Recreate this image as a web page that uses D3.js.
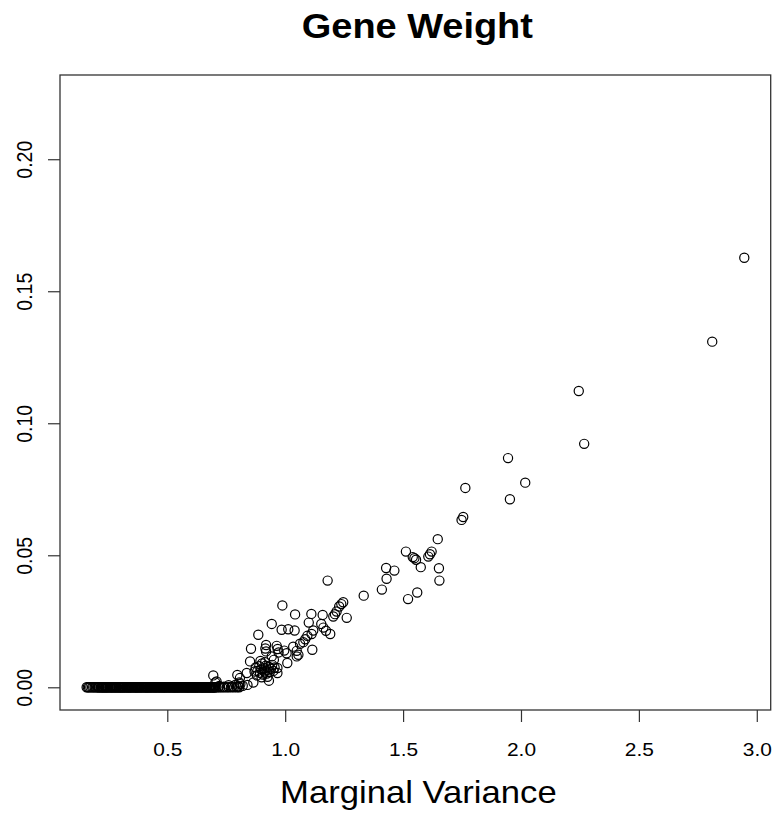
<!DOCTYPE html>
<html>
<head>
<meta charset="utf-8">
<script src="https://cdn.jsdelivr.net/npm/d3@7"></script>
<style>
  html, body { margin: 0; padding: 0; background: #fff; }
  text { font-family: "Liberation Sans", Arial, Helvetica, sans-serif; fill: #000; }
</style>
</head>
<body>
<svg id="chart" width="776" height="819"></svg>
<script>
// ---- Data ----
const title = "Gene Weight";
const xLabel = "Marginal Variance";
const xTicks = [0.5, 1.0, 1.5, 2.0, 2.5, 3.0];
const yTicks = [0.00, 0.05, 0.10, 0.15, 0.20];

// genes with zero weight (marginal variance only)
const zeroVariance = [
  0.158,0.163,0.168,0.174,0.181,0.186,0.192,0.197,0.203,0.207,0.212,0.218,0.223,0.227,0.232,0.236,
  0.241,0.247,0.250,0.255,0.260,0.264,0.269,0.273,0.279,0.283,0.287,0.293,0.297,0.301,0.306,0.312,
  0.315,0.320,0.325,0.329,0.334,0.338,0.344,0.348,0.352,0.357,0.363,0.366,0.371,0.376,0.381,0.385,
  0.390,0.394,0.399,0.405,0.408,0.413,0.418,0.423,0.427,0.432,0.436,0.441,0.447,0.450,0.455,0.460,
  0.465,0.469,0.474,0.478,0.483,0.489,0.492,0.497,0.502,0.507,0.511,0.516,0.520,0.526,0.530,0.534,
  0.539,0.545,0.548,0.553,0.558,0.563,0.567,0.572,0.576,0.582,0.586,0.590,0.595,0.601,0.604,0.609,
  0.614,0.619,0.623,0.628,0.632,0.638,0.642,0.646,0.651,0.657,0.660,0.665,0.670,0.675,0.679,0.684,
  0.688,0.693,0.698,0.703,0.708,0.716,0.724,0.733,0.742,0.752,0.761,0.772,0.783,0.795,0.805,
  0.210,0.221,0.229,0.239,0.244,0.257,0.266,0.276,0.285,0.295,0.303,0.309,0.318,0.327,0.336,0.341,
  0.350,0.360,0.368,0.374,0.383,0.392,0.402,0.411,0.416,0.425,0.434,0.444,0.452,0.462,0.471,0.481,
  0.486,0.494,0.504,0.513,0.523,0.528,0.537,0.542,0.551,0.560,0.569,0.579,0.584,0.593,0.598,0.607,
  0.612,0.621,0.626,0.635,0.644,0.649,0.654,0.663,0.668,0.677,0.682,0.691,0.696,0.701
];

// genes with non-zero weight
const variance = [
  2.947,2.811,2.245,2.268,1.945,2.018,1.953,
  1.764,1.755,1.748,1.647,1.512,1.541,1.548,1.555,1.621,1.614,1.607,1.575,1.652,1.654,
  1.428,1.463,1.430,1.410,1.333,1.560,1.521,
  1.180,0.988,1.042,1.111,1.159,1.246,1.238,1.229,1.218,1.211,1.204,1.261,0.943,0.985,
  1.013,1.040,1.100,1.153,1.162,1.173,1.119,1.112,1.191,0.886,1.094,1.085,1.077,0.855,
  0.919,0.916,0.919,0.964,0.968,0.972,0.996,1.006,1.034,1.049,1.056,1.115,1.063,0.943,
  0.952,1.009,0.851,1.049,0.967,0.967,0.931,0.865,0.695,0.837,0.797,0.808,0.805,0.704,0.709,
  0.875,0.882,0.890,0.893,0.898,0.902,0.905,0.910,0.913,0.918,0.922,0.925,0.930,0.935,
  0.940,0.945,0.950,0.880,0.900,0.925,0.955,0.870,0.895,0.915,
  0.720,0.740,0.760,0.775,0.790,0.800,0.810,0.820,0.840
];
const weight = [
  0.1627,0.1309,0.1122,0.0922,0.0868,0.0775,0.0712,
  0.0755,0.0645,0.0634,0.0561,0.0514,0.0493,0.0489,0.0483,0.0514,0.0504,0.0495,0.0455,0.0451,0.0404,
  0.0452,0.0442,0.0411,0.0370,0.0347,0.0359,0.0334,
  0.0404,0.0310,0.0276,0.0278,0.0274,0.0322,0.0315,0.0306,0.0287,0.0277,0.0268,0.0263,0.0240,0.0218,
  0.0220,0.0215,0.0245,0.0240,0.0226,0.0214,0.0215,0.0202,0.0202,0.0199,0.0195,0.0182,0.0171,0.0146,
  0.0160,0.0147,0.0136,0.0157,0.0145,0.0132,0.0139,0.0129,0.0154,0.0138,0.0123,0.0142,0.0165,0.0117,
  0.0104,0.0092,0.0098,0.0117,0.0054,0.0073,0.0025,0.0018,0.0045,0.0054,0.0047,0.0035,0.0018,0.0018,0.0022,
  0.0075,0.0062,0.0080,0.0055,0.0068,0.0090,0.0048,0.0072,0.0060,0.0082,0.0052,0.0066,0.0078,0.0058,
  0.0070,0.0085,0.0062,0.0045,0.0038,0.0040,0.0075,0.0060,0.0100,0.0095,
  0.0005,0.0002,0.0008,0.0003,0.0010,0.0004,0.0012,0.0006,0.0009
];

// ---- Layout ----
const box = { left: 60, right: 770.7, top: 75, bottom: 710 };
const stretch = 1.1; // horizontal text stretch seen in reference

const x = d3.scaleLinear().domain([0.045, 3.059]).range([box.left, box.right]);
const y = d3.scaleLinear().domain([-0.0086, 0.2319]).range([box.bottom, box.top]);

const svg = d3.select("#chart");

const points = zeroVariance.map(v => ({ v, w: 0 }))
  .concat(variance.map((v, i) => ({ v, w: weight[i] })));

// points
svg.append("g")
  .selectAll("circle")
  .data(points)
  .join("circle")
  .attr("cx", d => x(d.v))
  .attr("cy", d => y(d.w))
  .attr("r", 4.6)
  .attr("fill", "none")
  .attr("stroke", "#000")
  .attr("stroke-width", 1.2);

// box
svg.append("rect")
  .attr("x", box.left).attr("y", box.top)
  .attr("width", box.right - box.left).attr("height", box.bottom - box.top)
  .attr("fill", "none").attr("stroke", "#333").attr("stroke-width", 1.3);

// x axis
const xAxis = d3.axisBottom(x).tickValues(xTicks).tickSize(12).tickFormat(d3.format(".1f"));
const gx = svg.append("g").attr("transform", `translate(0,${box.bottom})`).call(xAxis);
gx.select(".domain").remove();
gx.selectAll(".tick line").attr("stroke", "#333").attr("stroke-width", 1.2);
gx.selectAll(".tick text").remove();
gx.selectAll(".tick").append("text")
  .attr("transform", `translate(0,${756 - box.bottom}) scale(${stretch},1)`)
  .attr("text-anchor", "middle")
  .style("font-size", "19px")
  .text(d => d3.format(".1f")(d));

// y axis
const yAxis = d3.axisLeft(y).tickValues(yTicks).tickSize(12).tickFormat(d3.format(".2f"));
const gy = svg.append("g").attr("transform", `translate(${box.left},0)`).call(yAxis);
gy.select(".domain").remove();
gy.selectAll(".tick line").attr("stroke", "#333").attr("stroke-width", 1.2);
gy.selectAll(".tick text").remove();
gy.selectAll(".tick").append("text")
  .attr("transform", `translate(${32.3 - box.left},0) scale(${stretch},1) rotate(-90)`)
  .attr("text-anchor", "middle")
  .style("font-size", "19.5px")
  .text(d => d3.format(".2f")(d));

// title
svg.append("text")
  .attr("transform", `translate(${(box.left + box.right) / 2 + 2},38) scale(${stretch},1)`)
  .attr("text-anchor", "middle")
  .style("font-size", "34.5px").style("font-weight", "bold")
  .text(title);

// x label
svg.append("text")
  .attr("transform", `translate(${(box.left + box.right) / 2 + 3},803) scale(${stretch},1)`)
  .attr("text-anchor", "middle")
  .style("font-size", "31.5px")
  .text(xLabel);
</script>
</body>
</html>
